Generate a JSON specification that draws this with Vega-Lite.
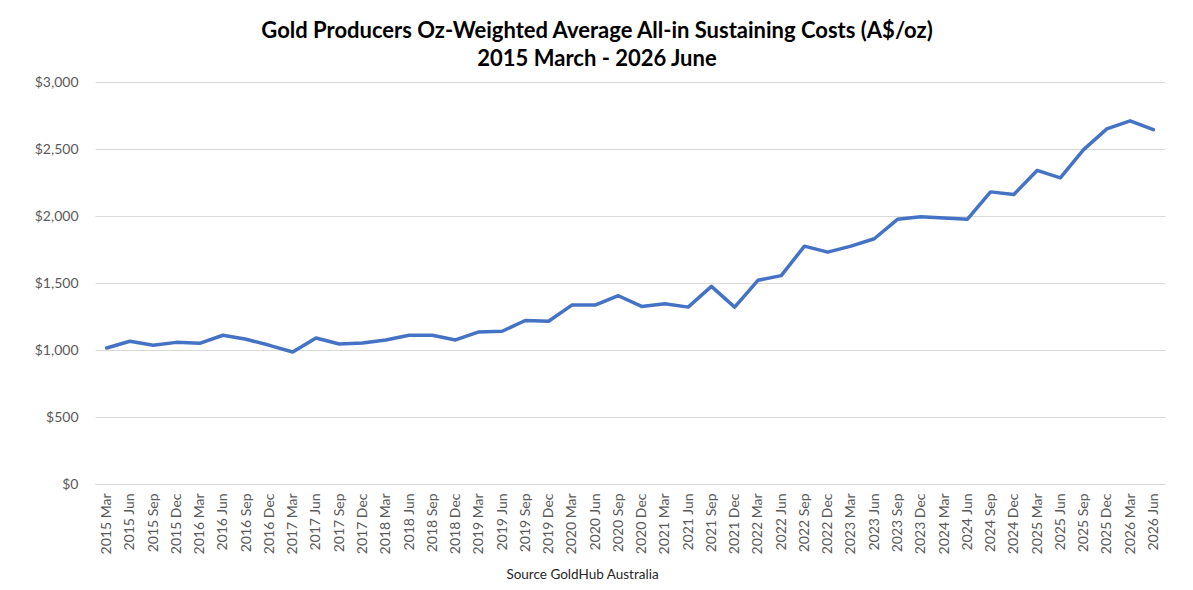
{
  "$schema": "https://vega.github.io/schema/vega-lite/v6.json",
  "width": 1070,
  "height": 402,
  "autosize": {"type": "none"},
  "padding": {"left": 95, "top": 82, "right": 28, "bottom": 106},
  "background": "white",
  "config": {
    "view": {"stroke": null},
    "font": "Lato"
  },
  "title": {
    "text": ["Gold Producers Oz-Weighted Average All-in Sustaining Costs (A$/oz)", "2015 March - 2026 June"],
    "font": "Lato",
    "fontSize": 22,
    "fontWeight": "bold",
    "color": "#000000",
    "anchor": "middle",
    "frame": "group",
    "dx": -33,
    "offset": 4,
    "lineHeight": 28
  },
  "data": {
    "values": [
      {"q": "2015 Mar", "v": 1015},
      {"q": "2015 Jun", "v": 1065},
      {"q": "2015 Sep", "v": 1035},
      {"q": "2015 Dec", "v": 1057},
      {"q": "2016 Mar", "v": 1050},
      {"q": "2016 Jun", "v": 1110},
      {"q": "2016 Sep", "v": 1080},
      {"q": "2016 Dec", "v": 1035},
      {"q": "2017 Mar", "v": 985},
      {"q": "2017 Jun", "v": 1090},
      {"q": "2017 Sep", "v": 1045},
      {"q": "2017 Dec", "v": 1052},
      {"q": "2018 Mar", "v": 1075},
      {"q": "2018 Jun", "v": 1110},
      {"q": "2018 Sep", "v": 1110},
      {"q": "2018 Dec", "v": 1075},
      {"q": "2019 Mar", "v": 1135},
      {"q": "2019 Jun", "v": 1140},
      {"q": "2019 Sep", "v": 1220},
      {"q": "2019 Dec", "v": 1215},
      {"q": "2020 Mar", "v": 1335},
      {"q": "2020 Jun", "v": 1335},
      {"q": "2020 Sep", "v": 1405},
      {"q": "2020 Dec", "v": 1325},
      {"q": "2021 Mar", "v": 1345},
      {"q": "2021 Jun", "v": 1320},
      {"q": "2021 Sep", "v": 1475},
      {"q": "2021 Dec", "v": 1320},
      {"q": "2022 Mar", "v": 1520},
      {"q": "2022 Jun", "v": 1555},
      {"q": "2022 Sep", "v": 1775},
      {"q": "2022 Dec", "v": 1730},
      {"q": "2023 Mar", "v": 1775},
      {"q": "2023 Jun", "v": 1830},
      {"q": "2023 Sep", "v": 1975},
      {"q": "2023 Dec", "v": 1995},
      {"q": "2024 Mar", "v": 1985},
      {"q": "2024 Jun", "v": 1975},
      {"q": "2024 Sep", "v": 2180},
      {"q": "2024 Dec", "v": 2160},
      {"q": "2025 Mar", "v": 2340},
      {"q": "2025 Jun", "v": 2285},
      {"q": "2025 Sep", "v": 2495},
      {"q": "2025 Dec", "v": 2650},
      {"q": "2026 Mar", "v": 2710},
      {"q": "2026 Jun", "v": 2645}
    ]
  },
  "mark": {"type": "line", "color": "#4472C4", "strokeWidth": 3.5, "strokeJoin": "round", "strokeCap": "round"},
  "encoding": {
    "x": {
      "field": "q",
      "type": "ordinal",
      "sort": null,
      "scale": {"type": "point", "padding": 0.5},
      "axis": {
        "title": "Source GoldHub Australia",
        "titleFont": "Lato",
        "titleFontSize": 13.5,
        "titleFontWeight": "normal",
        "titleColor": "#262626",
        "titleX": 487,
        "titleY": 94,
        "titleAnchor": "middle",
        "titleAlign": "center",
        "titleBaseline": "alphabetic",
        "labelAngle": -90,
        "labelFontSize": 14,
        "labelColor": "#595959",
        "labelPadding": 9,
        "labelOverlap": false,
        "ticks": false,
        "domainColor": "#D9D9D9",
        "domainWidth": 1,
        "grid": false
      }
    },
    "y": {
      "field": "v",
      "type": "quantitative",
      "scale": {"domain": [0, 3000]},
      "axis": {
        "title": null,
        "values": [0, 500, 1000, 1500, 2000, 2500, 3000],
        "format": "$,.0f",
        "labelFontSize": 14,
        "labelColor": "#595959",
        "labelPadding": 17,
        "ticks": false,
        "domain": false,
        "grid": true,
        "gridColor": "#D9D9D9",
        "gridWidth": 1
      }
    }
  }
}
